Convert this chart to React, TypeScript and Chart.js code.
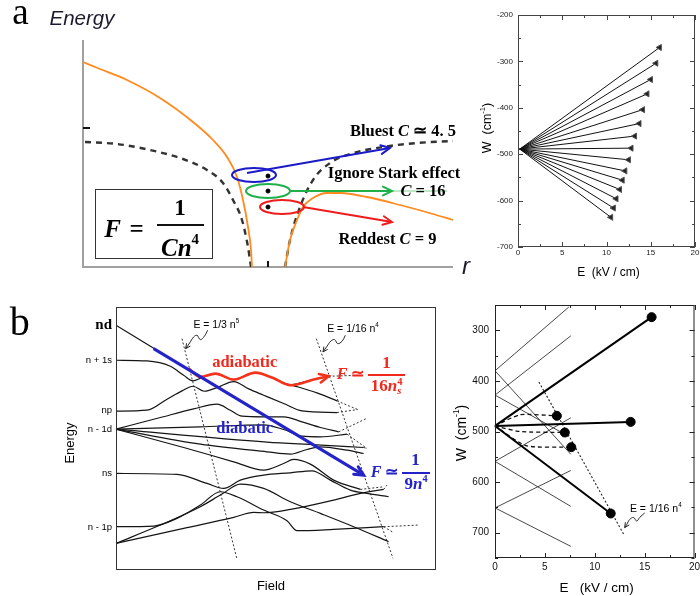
import React, { useEffect, useRef } from "react";
import { Chart, registerables } from "chart.js";
Chart.register(...registerables);

type P = [number, number];

const SANS = "'Liberation Sans', Arial, sans-serif";
const SERIF = "'Liberation Serif', 'Times New Roman', serif";

// ===== Panel a (left): schematic potential curves (arbitrary r / energy units)
const aOrangeLeft: P[] = [[0,205],[17,198],[44,187],[77,169],[110,145],[130,127],[144,110],[154,90],[160,67],[165,40],[168,17],[169,0]];
const aOrangeRight: P[] = [[202,0],[207,27],[214,47],[220,60],[230,69],[244,74],[257,74],[284,70],[317,62],[350,53],[370,47]];
const aCoulombLeft: P[] = [[2,125],[34,123],[67,117],[100,108],[124,97],[140,84],[150,67],[159,47],[165,20],[168,0]];
const aCoulombRight: P[] = [[202,0],[207,27],[217,60],[230,87],[247,104],[267,113],[300,120],[334,124],[370,126]];
const aEllipseR = [171, 185, 199];
const aEllipseE = [92, 76, 60];
const aEllipseRx = [22, 22, 22];
const aEllipseRy = [7, 7, 7];
const aEllipseColors = ["#1a1ac8", "#1fb04a", "#ee1c1c"];
const aDotR = [185, 185, 185];
const aDotE = [91, 76, 60];
const aArrowBlue: P[] = [[164,94],[307,119]];
const aArrowGreen: P[] = [[207,76],[309,76]];
const aGreenTail: P[] = [[309,76],[364,76]];
const aArrowRed: P[] = [[220,60],[309,45]];
const aTickE = [139];
const aTickR = [185];

// ===== Panel a (right): Stark fan W (cm^-1) vs E (kV/cm)
const fanStart: P = [0.2, -489];
const fanEndE = [16.0,15.6,15.0,14.6,14.1,13.7,13.2,12.8,12.5,12.1,11.8,11.5,11.1,10.8,10.5];
const fanEndW = [-270,-304,-339,-370,-404,-434,-461,-487,-512,-536,-556,-576,-596,-616,-636];
const aTicksE = [0, 5, 10, 15, 20];
const aMinorE = [2.5, 7.5, 12.5, 17.5];
const aTicksW = [-700, -600, -500, -400, -300, -200];
const aMinorW = [-650, -550, -450, -350, -250];

// ===== Panel b (left): schematic Energy vs Field (arbitrary units)
const bNd: P[] = [[347,135],[470,210]];
const bS1: P[] = [[347,240],[440,242],[510,258],[550,285],[578,302],[605,292],[645,280],[700,298],[765,277],[815,292],[870,313],[930,300],[985,288]];
const bS1b: P[] = [[870,313],[950,338],[1010,362]];
const bNp: P[] = [[347,393],[440,390],[500,357],[545,332],[578,318],[612,333],[650,322],[700,304],[745,326],[790,345],[850,370],[905,392],[1010,397]];
const bF1: P[] = [[347,447],[480,412],[580,386],[650,372],[690,390],[725,408],[790,410],[850,410],[905,425],[960,442],[1015,455]];
const bF2: P[] = [[347,447],[600,440],[790,434],[850,448],[905,468],[960,470],[1040,462]];
const bF3: P[] = [[347,447],[800,486],[950,494],[1090,502]];
const bF4: P[] = [[347,447],[600,492],[800,515],[870,522],[920,508],[960,500],[1040,510],[1090,520]];
const bF5: P[] = [[347,447],[550,502],[700,545],[790,570],[850,550],[880,538],[930,552],[1000,600],[1080,628]];
const bNs: P[] = [[347,580],[530,583],[620,610],[670,625],[720,600],[790,585],[870,578],[935,572],[990,600],[1050,630],[1100,640],[1165,650]];
const bP1: P[] = [[347,740],[460,738],[530,715],[600,675],[660,635],[710,650],[790,690],[860,722],[890,752],[1000,748],[1150,740]];
const bLf1: P[] = [[347,790],[480,735],[600,680],[665,642],[720,612],[790,625],[870,665],[960,700],[1060,740],[1165,785]];
const bLf2: P[] = [[347,790],[550,745],[700,712],[760,697],[790,698],[870,688],[1000,660],[1080,640],[1150,628]];
const bTails: P[][] = [
  [[985,288],[1080,285]],
  [[1010,362],[1072,388]],
  [[1010,397],[1072,388]],
  [[1015,455],[1098,415]],
  [[1040,462],[1100,505]],
  [[1090,502],[1100,505]],
  [[1080,628],[1150,620]],
  [[1150,628],[1160,615]],
  [[1150,740],[1255,735]],
  [[1150,740],[1180,758]],
];
const bThreshold1: P[] = [[545,175],[710,838]];
const bThreshold2: P[] = [[948,175],[1178,835]];
const bSquiggle1: P[] = [[622,150],[612,168],[600,178],[590,165],[580,170],[568,188],[556,205]];
const bSquiggle2: P[] = [[1035,165],[1025,183],[1012,190],[1003,178],[992,182],[980,198],[968,215]];
const bDiabatic: P[] = [[460,205],[1090,585]];
const bAdiabatic: P[] = [[565,265],[600,290],[645,280],[700,298],[765,277],[815,292],[870,315],[940,298],[985,288]];

// ===== Panel b (right): W (cm^-1) vs E (kV/cm)
const bOrigin: P = [0, 489];
const bThickEnd: P[] = [[15.7,274],[13.6,481],[11.6,662]];
const bDashed: P[][] = [
  [[0,489],[2.5,467],[6.2,469]],
  [[0,489],[2.5,500],[7.0,502]],
  [[0,489],[3.1,528],[7.65,531]],
];
const bThin: P[][] = [
  [[0,380],[7.4,254]],
  [[0,380],[7.6,545]],
  [[0,428],[7.6,311]],
  [[0,428],[7.4,510]],
  [[0,559],[7.6,473]],
  [[0,559],[7.6,648]],
  [[0,651],[7.6,577]],
  [[0,651],[7.6,727]],
];
const bThreshold: P[] = [[4.4,402],[12.9,703]];
const bSquiggle: P[] = [[15.0,661],[14.5,670],[14.2,677],[13.9,670],[13.5,674],[13.2,684],[13.0,690]];
const bTicksE = [0, 5, 10, 15, 20];
const bMinorE = [2.5, 7.5, 12.5, 17.5];
const bTicksW = [300, 400, 500, 600, 700];
const bMinorW = [250, 350, 450, 550, 650, 750];

// ---------- helpers
const line = (pts: P[], color: string, width: number, extra: any = {}) => ({
  data: pts.map(([x, y]) => ({ x, y })),
  borderColor: color,
  backgroundColor: color,
  borderWidth: width,
  pointRadius: 0,
  fill: false,
  tension: 0,
  clip: false,
  ...extra,
});

function chevron(ctx: CanvasRenderingContext2D, x0: number, y0: number, x1: number, y1: number, size: number, color: string, width: number) {
  const ang = Math.atan2(y1 - y0, x1 - x0);
  ctx.save();
  ctx.setLineDash([]);
  ctx.strokeStyle = color;
  ctx.lineWidth = width;
  ctx.lineCap = "round";
  ctx.beginPath();
  ctx.moveTo(x1 - size * Math.cos(ang - 0.45), y1 - size * Math.sin(ang - 0.45));
  ctx.lineTo(x1, y1);
  ctx.lineTo(x1 - size * Math.cos(ang + 0.45), y1 - size * Math.sin(ang + 0.45));
  ctx.stroke();
  ctx.restore();
}

const arrowPlugin = {
  id: "arrowHeads",
  afterDatasetsDraw(chart: any) {
    const { ctx, scales } = chart;
    chart.data.datasets.forEach((ds: any) => {
      if (!ds.arrowHead) return;
      const d = ds.data;
      const a = d[d.length - 2], b = d[d.length - 1];
      chevron(ctx, scales.x.getPixelForValue(a.x), scales.y.getPixelForValue(a.y),
        scales.x.getPixelForValue(b.x), scales.y.getPixelForValue(b.y), ds.arrowHead, ds.borderColor, ds.borderWidth);
    });
  },
};

function framePlugin(color: string, width: number) {
  return {
    id: "frame",
    afterDraw(chart: any) {
      const { ctx, chartArea: { left, right, top, bottom } } = chart;
      ctx.save();
      ctx.strokeStyle = color;
      ctx.lineWidth = width;
      ctx.setLineDash([]);
      ctx.strokeRect(left + 0.5, top + 0.5, right - left - 1, bottom - top - 1);
      ctx.restore();
    },
  };
}

function innerTicksPlugin(majX: number[], minX: number[], majY: number[], minY: number[], color: string) {
  return {
    id: "innerTicks",
    afterDraw(chart: any) {
      const { ctx, chartArea: { left, right, top, bottom }, scales: { x, y } } = chart;
      ctx.save();
      ctx.strokeStyle = color;
      ctx.lineWidth = 1;
      ctx.setLineDash([]);
      ctx.beginPath();
      const dx = (vals: number[], len: number) => vals.forEach((v) => {
        const p = Math.round(x.getPixelForValue(v)) + 0.5;
        ctx.moveTo(p, bottom); ctx.lineTo(p, bottom - len);
        ctx.moveTo(p, top); ctx.lineTo(p, top + len);
      });
      const dy = (vals: number[], len: number) => vals.forEach((v) => {
        const p = Math.round(y.getPixelForValue(v)) + 0.5;
        ctx.moveTo(left, p); ctx.lineTo(left + len, p);
        ctx.moveTo(right, p); ctx.lineTo(right - len, p);
      });
      dx(majX, 5); dx(minX, 3); dy(majY, 5); dy(minY, 3);
      ctx.stroke();
      ctx.restore();
    },
  };
}

const base = (padding: any, scales: any) => ({
  animation: false,
  responsive: false,
  devicePixelRatio: 1,
  events: [],
  layout: { padding },
  plugins: { legend: { display: false }, tooltip: { enabled: false }, title: { display: false } },
  scales,
});

const hidden = (min: number, max: number, reverse = false) => ({ type: "linear", display: false, min, max, reverse });

// ---------- chart builders
function buildALeft() {
  const axesPlugin = {
    id: "aAxes",
    beforeDatasetsDraw(chart: any) {
      const { ctx, chartArea: { left, right, top, bottom }, scales: { x, y } } = chart;
      ctx.save();
      ctx.strokeStyle = "#a0a0a0";
      ctx.lineWidth = 2;
      ctx.beginPath();
      ctx.moveTo(left, top); ctx.lineTo(left, bottom); ctx.lineTo(right, bottom);
      ctx.stroke();
      ctx.strokeStyle = "#111";
      ctx.beginPath();
      aTickE.forEach((v) => { const p = y.getPixelForValue(v); ctx.moveTo(left, p); ctx.lineTo(left + 7, p); });
      aTickR.forEach((v) => { const p = x.getPixelForValue(v); ctx.moveTo(p, bottom); ctx.lineTo(p, bottom - 6); });
      ctx.stroke();
      ctx.restore();
    },
  };
  const ellipsePlugin = {
    id: "aEllipses",
    afterDatasetsDraw(chart: any) {
      const { ctx, scales: { x, y } } = chart;
      ctx.save();
      ctx.lineWidth = 2;
      ctx.setLineDash([]);
      aEllipseR.forEach((r, i) => {
        const cx = x.getPixelForValue(r), cy = y.getPixelForValue(aEllipseE[i]);
        const rx = x.getPixelForValue(r + aEllipseRx[i]) - cx;
        const ry = cy - y.getPixelForValue(aEllipseE[i] + aEllipseRy[i]);
        ctx.strokeStyle = aEllipseColors[i];
        ctx.beginPath();
        ctx.ellipse(cx, cy, rx, ry, 0, 0, Math.PI * 2);
        ctx.stroke();
      });
      ctx.restore();
    },
  };
  return {
    type: "line",
    data: {
      datasets: [
        line(aArrowBlue, aEllipseColors[0], 2, { arrowHead: 10, order: 0 }),
        line(aArrowGreen, aEllipseColors[1], 2, { arrowHead: 10, order: 0 }),
        line(aGreenTail, "#7fd08f", 1, { order: 0 }),
        line(aArrowRed, aEllipseColors[2], 2, { arrowHead: 10, order: 0 }),
        { ...line(aDotR.map((r, i) => [r, aDotE[i]] as P), "#000", 1, { order: 0 }), showLine: false, pointRadius: 2, pointBackgroundColor: "#000" },
        line(aOrangeLeft, "#ff8a1e", 1.8, { cubicInterpolationMode: "monotone", order: 1 }),
        line(aOrangeRight, "#ff8a1e", 1.8, { cubicInterpolationMode: "monotone", order: 1 }),
        line(aCoulombLeft, "#333", 2.4, { borderDash: [6, 5], cubicInterpolationMode: "monotone", order: 2 }),
        line(aCoulombRight, "#333", 2.4, { borderDash: [6, 5], cubicInterpolationMode: "monotone", order: 2 }),
      ],
    },
    options: base({ left: 83, top: 40, right: 27, bottom: 23 }, { x: hidden(0, 370), y: hidden(0, 227) }),
    plugins: [axesPlugin, ellipsePlugin, arrowPlugin],
  };
}

function buildARight() {
  const datasets = fanEndE.map((e, i) =>
    line([fanStart, [e, fanEndW[i]]], "#111", 1, {
      pointRadius: (c: any) => (c.dataIndex === 1 ? 3.5 : 0),
      pointStyle: "triangle",
      pointRotation: 270,
      pointBackgroundColor: "#222",
      pointBorderColor: "#555",
      pointBorderWidth: 1,
    })
  );
  return {
    type: "line",
    data: { datasets },
    options: base({ left: 0, top: 15, right: 2, bottom: 0 }, {
      x: {
        type: "linear", min: 0, max: 20,
        afterBuildTicks: (s: any) => { s.ticks = aTicksE.map((v) => ({ value: v })); },
        ticks: { font: { size: 8, family: SANS }, color: "#222", padding: 1, maxRotation: 0, autoSkip: false, callback: (v: any) => String(v) },
        grid: { display: false, drawTicks: false },
        border: { display: false },
        afterFit: (s: any) => { s.height = 43; s.paddingLeft = 0; s.paddingRight = 0; },
      },
      y: {
        type: "linear", min: -700, max: -200,
        afterBuildTicks: (s: any) => { s.ticks = aTicksW.map((v) => ({ value: v })); },
        ticks: { font: { size: 8, family: SANS }, color: "#222", padding: 5, autoSkip: false, callback: (v: any) => String(v) },
        grid: { display: false, drawTicks: false },
        border: { display: false },
        afterFit: (s: any) => { s.width = 48; s.paddingTop = 0; s.paddingBottom = 0; },
      },
    }),
    plugins: [framePlugin("#444", 1), innerTicksPlugin(aTicksE, aMinorE, aTicksW, aMinorW, "#444")],
  };
}

function buildBLeft() {
  const black = [bNd, bS1, bS1b, bNp, bF1, bF2, bF3, bF4, bF5, bNs, bP1, bLf1, bLf2];
  const datasets: any[] = [
    line(bDiabatic, "#2323c8", 3, { arrowHead: 10, order: 0 }),
    line(bAdiabatic, "#f5321a", 2.6, { arrowHead: 10, order: 0, cubicInterpolationMode: "monotone" }),
    ...black.map((c) => line(c, "#151515", 1.2, { cubicInterpolationMode: "monotone", order: 2 })),
    ...bTails.map((c) => line(c, "#333", 1, { borderDash: [2, 2], order: 2 })),
    line(bThreshold1, "#333", 1, { borderDash: [2, 2], order: 3 }),
    line(bThreshold2, "#333", 1, { borderDash: [2, 2], order: 3 }),
    line(bSquiggle1, "#222", 1, { tension: 0.4, arrowHead: 5, order: 3 }),
    line(bSquiggle2, "#222", 1, { tension: 0.4, arrowHead: 5, order: 3 }),
  ];
  return {
    type: "line",
    data: { datasets },
    options: base({ left: 116, top: 17, right: 34, bottom: 26 }, { x: hidden(347, 1307), y: hidden(80, 870, true) }),
    plugins: [framePlugin("#333", 1), arrowPlugin],
  };
}

function buildBRight() {
  const datasets: any[] = [
    ...bThickEnd.map((e) => line([bOrigin, e], "#000", 2, { order: 0 })),
    { ...line([...bThickEnd, ...bDashed.map((d) => d[d.length - 1])], "#000", 1, { order: 0 }), showLine: false, pointRadius: 4.5, pointBackgroundColor: "#000" },
    ...bDashed.map((d) => line(d, "#111", 1.3, { borderDash: [4, 3], order: 1, tension: 0.2 })),
    ...bThin.map((d) => line(d, "#333", 0.9, { order: 2, clip: true })),
    line(bThreshold, "#222", 1.1, { borderDash: [2, 2], order: 2 }),
    line(bSquiggle, "#222", 1, { tension: 0.4, arrowHead: 5, order: 2 }),
  ];
  return {
    type: "line",
    data: { datasets },
    options: base({ left: 0, top: 15, right: 3, bottom: 0 }, {
      x: {
        type: "linear", min: 0, max: 20,
        afterBuildTicks: (s: any) => { s.ticks = bTicksE.map((v) => ({ value: v })); },
        ticks: { font: { size: 10, family: SANS }, color: "#111", padding: 3, maxRotation: 0, autoSkip: false, callback: (v: any) => String(v) },
        grid: { display: false, drawTicks: false },
        border: { display: false },
        afterFit: (s: any) => { s.height = 38; s.paddingLeft = 0; s.paddingRight = 0; },
      },
      y: {
        type: "linear", min: 250, max: 750, reverse: true,
        afterBuildTicks: (s: any) => { s.ticks = bTicksW.map((v) => ({ value: v })); },
        ticks: { font: { size: 10, family: SANS }, color: "#111", padding: 6, autoSkip: false, callback: (v: any) => String(v) },
        grid: { display: false, drawTicks: false },
        border: { display: false },
        afterFit: (s: any) => { s.width = 25; s.paddingTop = 0; s.paddingBottom = 0; },
      },
    }),
    plugins: [framePlugin("#222", 1), innerTicksPlugin(bTicksE, bMinorE, bTicksW, bMinorW, "#222"), arrowPlugin],
  };
}

function ChartBox({ left, top, width, height, build }: any) {
  const ref = useRef<HTMLCanvasElement>(null);
  useEffect(() => {
    const c = new Chart(ref.current as HTMLCanvasElement, build());
    return () => c.destroy();
  }, []);
  return <canvas ref={ref} width={width} height={height} style={{ position: "absolute", left, top, width, height }} />;
}

function Txt({ x, y, size, family = SANS, weight = 400, italic = false, color = "#000", align = "center", rot = 0, children }: any) {
  const tx = align === "center" ? "-50%" : align === "right" ? "-100%" : "0";
  return (
    <div
      style={{
        position: "absolute", left: x, top: y, whiteSpace: "nowrap", lineHeight: 1,
        fontSize: size, fontFamily: family, fontWeight: weight, fontStyle: italic ? "italic" : "normal", color,
        transform: `translate(${tx},-50%)${rot ? ` rotate(${rot}deg)` : ""}`,
      }}
    >
      {children}
    </div>
  );
}

const Sup = ({ children }: any) => <span style={{ fontSize: "0.6em", verticalAlign: "0.75em", fontStyle: "normal" }}>{children}</span>;

export default function App() {
  const RED = "#f0281e";
  const BLUE = "#2323c8";
  return (
    <div style={{ position: "absolute", left: 0, top: 0, width: 700, height: 596, background: "#fff", overflow: "hidden", fontFamily: SANS }}>
      <ChartBox left={0} top={0} width={480} height={290} build={buildALeft} />
      <ChartBox left={470} top={0} width={230} height={290} build={buildARight} />
      <ChartBox left={0} top={290} width={470} height={306} build={buildBLeft} />
      <ChartBox left={470} top={290} width={230} height={306} build={buildBRight} />

      {/* panel a left texts */}
      <Txt x={20.5} y={11} size={37} family={SERIF}>a</Txt>
      <Txt x={82} y={18} size={20.5} italic color="#1b1b2e">Energy</Txt>
      <Txt x={466} y={266} size={24} italic color="#1b1b2e">r</Txt>
      <Txt x={403} y={130.5} size={16.5} family={SERIF} weight={700}>Bluest <i>C</i> ≃ 4. 5</Txt>
      <Txt x={394} y={173} size={16.5} family={SERIF} weight={700}>Ignore Stark effect</Txt>
      <Txt x={423} y={190.8} size={16.5} family={SERIF} weight={700}><i>C</i> = 16</Txt>
      <Txt x={387.5} y={239.2} size={16.5} family={SERIF} weight={700}>Reddest <i>C</i> = 9</Txt>
      <div style={{ position: "absolute", left: 95, top: 189, width: 118, height: 70, border: "1.5px solid #333", boxSizing: "border-box" }} />
      <Txt x={112.5} y={228} size={25} family={SERIF} weight={700} italic>F</Txt>
      <Txt x={136.7} y={228} size={25} family={SERIF} weight={700}>=</Txt>
      <Txt x={180} y={207} size={23} family={SERIF} weight={700}>1</Txt>
      <div style={{ position: "absolute", left: 157, top: 224, width: 47, height: 2, background: "#111" }} />
      <Txt x={180} y={246} size={25} family={SERIF} weight={700} italic>Cn<Sup>4</Sup></Txt>

      {/* panel a right texts */}
      <Txt x={486} y={128} size={12.5} rot={-90}>W&nbsp;&nbsp;(cm<Sup>-1</Sup>)</Txt>
      <Txt x={608.5} y={272} size={12}>E&nbsp;&nbsp;(kV / cm)</Txt>

      {/* panel b left texts */}
      <Txt x={19.7} y={321.5} size={40} family={SERIF}>b</Txt>
      <Txt x={112} y={324} size={15} family={SERIF} weight={700} align="right">nd</Txt>
      <Txt x={112} y={360} size={9.5} align="right">n + 1s</Txt>
      <Txt x={112} y={410} size={9.5} align="right">np</Txt>
      <Txt x={112} y={429} size={9.5} align="right">n - 1d</Txt>
      <Txt x={112} y={472.5} size={9.5} align="right">ns</Txt>
      <Txt x={112} y={526.7} size={9.5} align="right">n - 1p</Txt>
      <Txt x={69} y={442.5} size={13} rot={-90}>Energy</Txt>
      <Txt x={271} y={585} size={13}>Field</Txt>
      <Txt x={216.3} y={324} size={10.5}>E = 1/3 n<Sup>5</Sup></Txt>
      <Txt x={353} y={327.5} size={10.5}>E = 1/16 n<Sup>4</Sup></Txt>
      <Txt x={244.7} y={361.7} size={16.5} family={SERIF} weight={700} color={RED}>adiabatic</Txt>
      <Txt x={244.7} y={427.7} size={16.5} family={SERIF} weight={700} color={BLUE}>diabatic</Txt>
      <Txt x={336.7} y={374} size={16} family={SERIF} weight={700} color={RED} align="left"><i>F</i> ≃</Txt>
      <Txt x={386.5} y={361.7} size={17} family={SERIF} weight={700} color={RED}>1</Txt>
      <div style={{ position: "absolute", left: 368, top: 374, width: 37, height: 1.6, background: RED }} />
      <Txt x={386.7} y={387} size={17} family={SERIF} weight={700} color={RED}>
        16<i>n</i>
        <span style={{ display: "inline-block", verticalAlign: "middle", lineHeight: 0.85, fontSize: "0.62em", textAlign: "left" }}>4<br /><i>s</i></span>
      </Txt>
      <Txt x={370.7} y={472} size={16} family={SERIF} weight={700} color={BLUE} align="left"><i>F</i> ≃</Txt>
      <Txt x={415.5} y={459} size={17} family={SERIF} weight={700} color={BLUE}>1</Txt>
      <div style={{ position: "absolute", left: 401.7, top: 472, width: 28.5, height: 1.6, background: BLUE }} />
      <Txt x={416} y={482.5} size={17} family={SERIF} weight={700} color={BLUE}>9<i>n</i><Sup>4</Sup></Txt>

      {/* panel b right texts */}
      <Txt x={460} y={433} size={14} rot={-90}>W&nbsp;&nbsp;(cm<Sup>-1</Sup>)</Txt>
      <Txt x={596.7} y={587.5} size={13.5}>E&nbsp;&nbsp;&nbsp;(kV / cm)</Txt>
      <Txt x={655.8} y={507.5} size={10.5}>E = 1/16 n<Sup>4</Sup></Txt>
    </div>
  );
}
